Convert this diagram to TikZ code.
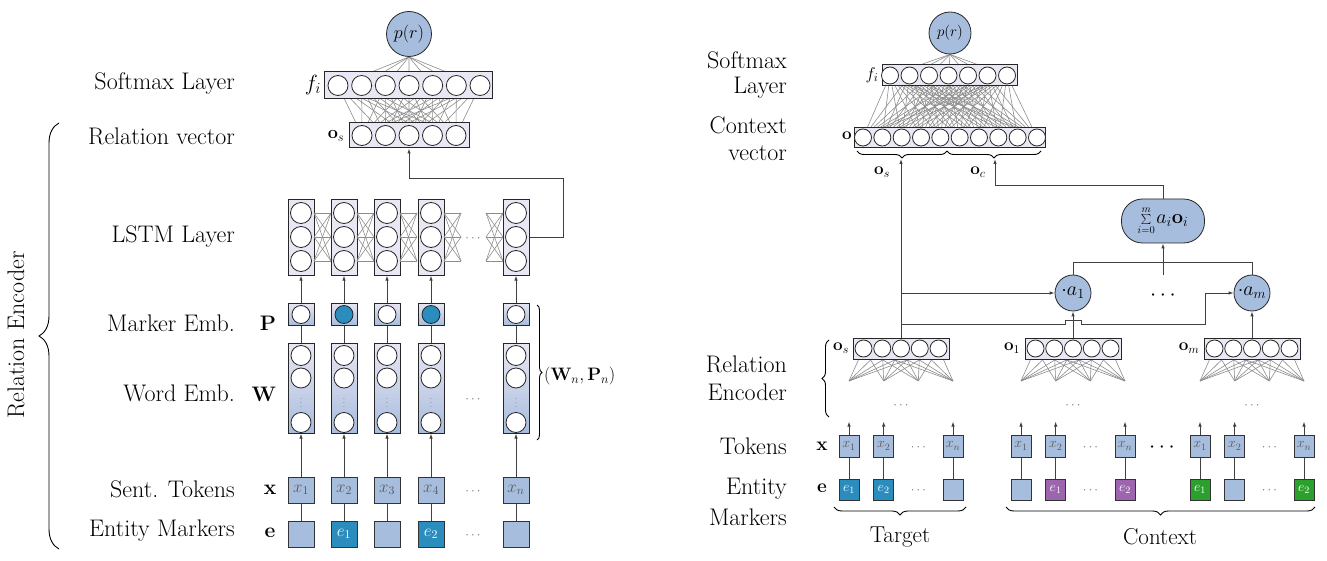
\RequirePackage{fix-cm}
\documentclass[tikz,border=0pt]{standalone}
\usetikzlibrary{arrows.meta,decorations.pathreplacing,backgrounds}
\definecolor{nblue}{RGB}{167,189,221}
\definecolor{lav}{RGB}{234,230,243}
\definecolor{mblue}{RGB}{43,140,190}
\definecolor{mpurp}{RGB}{156,101,174}
\definecolor{mgreen}{RGB}{44,160,44}
\newcommand{\fsz}[1]{\fontsize{#1}{#1}\selectfont}
\begin{document}
\begin{tikzpicture}[x=1pt,y=-1pt,
 lbl/.style={font=\fsz{24}, anchor=east, inner sep=0pt},
 mlbl/.style={inner sep=0pt},
 neuron/.style={circle, draw=black!85, fill=white, line width=0.8pt, inner sep=0pt},
 lbox/.style={rectangle, draw=black!85, fill=lav, line width=1pt, inner sep=0pt},
 gbox/.style={rectangle, draw=black!85, top color=lav, bottom color=nblue, line width=1pt, inner sep=0pt},
 tbox/.style={rectangle, draw=black!80, fill=nblue, line width=1pt, inner sep=0pt, text=black!65},
 mesh/.style={draw=black!45, line width=0.6pt},
 wire/.style={draw=black!75, line width=0.9pt},
 arr/.style={wire, -{Latex[length=5pt,width=3.5pt]}},
 brc/.style={decorate, decoration={brace, amplitude=#1}, line width=0.9pt, draw=black},
 sdots/.style={font=\fsz{13}, text=black!55, inner sep=0pt},
]
\useasboundingbox (0,0) rectangle (1327,561);

%================ LEFT PANEL ================
\node[lbl] (tSoftL) at (235,84) {Softmax Layer};
\node[lbl] (tRelV) at (235,136) {Relation vector};
\node[lbl] (tLSTM) at (235,237) {LSTM Layer};
\node[lbl] (tMark) at (235,323) {Marker Emb.};
\node[lbl] (tWord) at (235,393) {Word Emb.};
\node[lbl] (tSent) at (235,489) {Sent. Tokens};
\node[lbl] (tEntL) at (235,531) {Entity Markers};

\node[mlbl, font=\fsz{21}] (lP) at (268,323) {$\mathbf{P}$};
\node[mlbl, font=\fsz{21}] (lW) at (264,394) {$\mathbf{W}$};
\node[mlbl, font=\fsz{21}] (lx) at (270,490) {$\mathbf{x}$};
\node[mlbl, font=\fsz{21}] (le) at (270,533) {$\mathbf{e}$};

\draw[brc=20pt] (59,549) -- (59,123);
\node[rotate=90, font=\fsz{24}, inner sep=0pt] (relEnc) at (16,335) {Relation Encoder};

\node[neuron, fill=nblue, minimum size=45pt, font=\fsz{18}] (prL) at (409,34) {$p(r)$};
\node[lbox, minimum width=168pt, minimum height=27pt] (fL) at (408,85.5) {};
\foreach \k in {1,...,7} \node[neuron, minimum size=20pt] (fL\k) at ({338+23.67*(\k-1)},85.5) {};
\node[lbox, minimum width=120pt, minimum height=25pt] (osL) at (409,135.5) {};
\foreach \k in {1,...,5} \node[neuron, minimum size=20pt] (osL\k) at ({362+23.5*(\k-1)},135.5) {};
\node[mlbl, font=\fsz{22}] (fiL) at (313,85) {$f_i$};
\node[mlbl, font=\fsz{18}] (osLl) at (336,136) {$\mathbf{o}_s$};

\begin{scope}[on background layer]
\foreach \k in {1,...,7} \draw[mesh] (prL.south) -- (fL\k.center);
\foreach \a in {1,...,7} \foreach \b in {1,...,5} \draw[mesh] (fL\a.center) -- (osL\b.center);
\end{scope}

\foreach \i/\x/\s/\pc/\ec/\el in {1/301/1/white/nblue/{},2/344/2/mblue/mblue/{$e_1$},3/387/3/white/nblue/{},4/431/4/mblue/mblue/{$e_2$},6/516/n/white/nblue/{}}{
  \node[lbox, minimum width=26pt, minimum height=75pt] (L\i) at (\x,237.5) {};
  \foreach \y/\n in {213/a,237/b,261/c} \node[neuron, minimum size=21pt] (L\i\n) at (\x,\y) {};
  \node[gbox, minimum width=26pt, minimum height=22pt] (P\i) at (\x,314) {};
  \node[neuron, minimum size=18pt, fill=\pc] (Pc\i) at (\x,314.5) {};
  \node[gbox, minimum width=26pt, minimum height=90pt] (W\i) at (\x,388) {};
  \foreach \y/\n in {355.5/a,378/b,422.5/c} \node[neuron, minimum size=20pt] (W\i\n) at (\x,\y) {};
  \node[sdots, font=\fsz{8}, text=black!70] (Wd\i) at (\x,400) {$\vdots$};
  \node[tbox, minimum size=26pt, font=\fsz{17}] (X\i) at (\x,490) {$x_\s$};
  \node[tbox, minimum size=26pt, font=\fsz{17}, fill=\ec, text=white] (E\i) at (\x,534) {\el};
  \draw[arr] (P\i.north) -- (L\i.south);
  \draw[wire] (P\i.south) -- (W\i.north);
  \draw[arr] (X\i.north) -- (W\i.south);
  \draw[wire] (X\i.south) -- (E\i.north);
}
\foreach \x in {301,344,387,431,473} \foreach \ya in {213,237,261} \foreach \yb in {213,237,261}
  \draw[mesh] ({\x+13},\ya) -- ({\x+30},\yb);
\node[sdots] (dL1) at (473,239) {$\cdots$};
\node[sdots] (dL2) at (473,400) {$\cdots$};
\node[sdots] (dL3) at (473,492) {$\cdots$};
\node[sdots] (dL4) at (473,536) {$\cdots$};

\draw[arr] (L6.east) -- (563,237.5) -- (563,178) -- (409,178) -- (osL.south);

\draw[brc=5pt] (537,305) -- (537,440);
\node[mlbl, anchor=west, font=\fsz{18}] (WPn) at (544,376) {$(\mathbf{W}_n,\mathbf{P}_n)$};

%================ RIGHT PANEL ================
\node[lbl] (tSoftR1) at (787,60) {Softmax};
\node[lbl] (tSoftR2) at (787,88) {Layer};
\node[lbl] (tCtx1) at (787,125) {Context};
\node[lbl] (tCtx2) at (787,153) {vector};
\node[lbl] (tRE1) at (787,364) {Relation};
\node[lbl] (tRE2) at (787,392) {Encoder};
\node[lbl] (tTok) at (787,446) {Tokens};
\node[lbl] (tEnt1) at (787,489) {Entity};
\node[lbl] (tEnt2) at (787,517) {Markers};

\node[mlbl, font=\fsz{19}] (rx) at (822,446) {$\mathbf{x}$};
\node[mlbl, font=\fsz{19}] (re) at (822,488) {$\mathbf{e}$};

\node[neuron, fill=nblue, minimum size=42pt, font=\fsz{15}] (prR) at (950,33) {$p(r)$};
\node[lbox, minimum width=135pt, minimum height=21pt] (fR) at (949.5,75.5) {};
\foreach \k in {1,...,7} \node[neuron, minimum size=17pt] (fR\k) at ({890+19.5*(\k-1)},75.5) {};
\node[lbox, minimum width=191pt, minimum height=20pt] (oR) at (949.5,137.5) {};
\foreach \k in {1,...,10} \node[neuron, minimum size=17pt] (oR\k) at ({863+19.33*(\k-1)},137.5) {};
\node[mlbl, font=\fsz{17}] (fiR) at (872,75) {$f_i$};
\node[mlbl, font=\fsz{17}] (oRl) at (847,136) {$\mathbf{o}$};

\begin{scope}[on background layer]
\foreach \k in {1,...,7} \draw[mesh] (prR.south) -- (fR\k.center);
\foreach \a in {1,...,7} \foreach \b in {1,...,10} \draw[mesh] (fR\a.center) -- (oR\b.center);
\end{scope}

\draw[brc=7pt] (947,151) -- (857,151);
\draw[brc=7pt] (1041,151) -- (947,151);
\node[mlbl, font=\fsz{17}] (osTop) at (882,172) {$\mathbf{o}_s$};
\node[mlbl, font=\fsz{17}] (ocTop) at (978,172) {$\mathbf{o}_c$};

\foreach \c/\nm/\lab/\lx in {901/osR/s/841,1073/o1R/1/1012,1252/omR/m/1189}{
  \node[lbox, minimum width=96pt, minimum height=21pt] (\nm) at (\c,348.5) {};
  \foreach \k in {1,...,5} \node[neuron, minimum size=17pt] (\nm\k) at ({\c-37.5+18.75*(\k-1)},348.5) {};
  \node[mlbl, font=\fsz{17}] (\nm l) at (\lx,348) {$\mathbf{o}_\lab$};
  \begin{scope}[on background layer]
  \foreach \k in {1,...,5} \foreach \d in {-52,-17.33,17.33,52} \draw[mesh] (\nm\k.center) -- ({\c+\d},381);
  \end{scope}
  \node[sdots] (\nm d) at (\c,406) {$\cdots$};
  \node[sdots] (\nm dx) at ({\c+17.33},448) {$\cdots$};
  \node[sdots] (\nm de) at ({\c+17.33},491) {$\cdots$};
}

\foreach \nm/\x/\s in {T1/849/1,T2/883.67/2,T4/953/n,A1/1021/1,A2/1055.67/2,A4/1125/n,B1/1200/1,B2/1234.67/2,B4/1304/n}{
  \node[tbox, minimum width=20pt, minimum height=22pt, font=\fsz{14}] (XR\nm) at (\x,446) {$x_\s$};
}
\foreach \nm/\x/\col/\lab in {T1/849/mblue/{$e_1$},T2/883.67/mblue/{$e_2$},T4/953/nblue/{},A1/1021/nblue/{},A2/1055.67/mpurp/{$e_1$},A4/1125/mpurp/{$e_2$},B1/1200/mgreen/{$e_1$},B2/1234.67/nblue/{},B4/1304/mgreen/{$e_2$}}{
  \node[tbox, minimum width=20pt, minimum height=21pt, font=\fsz{14}, fill=\col, text=white] (ER\nm) at (\x,489.5) {\lab};
  \draw[wire] (XR\nm.south) -- (ER\nm.north);
  \draw[arr] (XR\nm.north) -- ++(0,-13);
}
\node[font=\fsz{22}, inner sep=0pt] (bigdots) at (1162,448) {$\cdots$};

% attention part
\node[neuron, fill=nblue, minimum size=36pt, font=\fsz{20}] (a1) at (1073,293) {$\cdot a_1$};
\node[neuron, fill=nblue, minimum size=36pt, font=\fsz{20}] (am) at (1252,293) {$\cdot a_m$};
\node[font=\fsz{22}, inner sep=0pt] (adots) at (1163,296) {$\cdots$};
\node[draw=black!85, fill=nblue, line width=0.8pt, rounded corners=21pt, minimum width=83pt, minimum height=44pt, inner sep=0pt] (sum) at (1163,221) {{\fsz{15}$\sum\limits_{i=0}^{m}$}\,{\fsz{20}$a_i\mathbf{o}_i$}};

\draw[arr] (osR.north) -- (901,159);
\draw[arr] (osR.north |- a1.west) -- (a1.west);
\draw[arr] (osR.north |- 0,324) -- (1065,324) -- (1065,320) -- (1081,320) -- (1081,324) -- (1205,324) |- (am.west);
\draw[arr] (o1R.north) -- (a1.south);
\draw[arr] (omR.north) -- (am.south);
\draw[wire] (a1.north) -- (a1.north |- 0,262) -- (am.north |- 0,262) -- (am.north);
\draw[arr] (sum.south |- 0,275) -- (sum.south);
\draw[arr] (sum.north) -- (sum.north |- 0,185) -- (995,185) -- (995,159);

\draw[brc=7pt] (829,417) -- (829,340);

\draw[brc=8pt] (966,507) -- (834,507);
\draw[brc=8pt] (1315,507) -- (1006,507);
\node[font=\fsz{23}, inner sep=0pt] (tTarget) at (900,537) {Target};
\node[font=\fsz{23}, inner sep=0pt] (tContext) at (1160,537) {Context};
\end{tikzpicture}
\end{document}
